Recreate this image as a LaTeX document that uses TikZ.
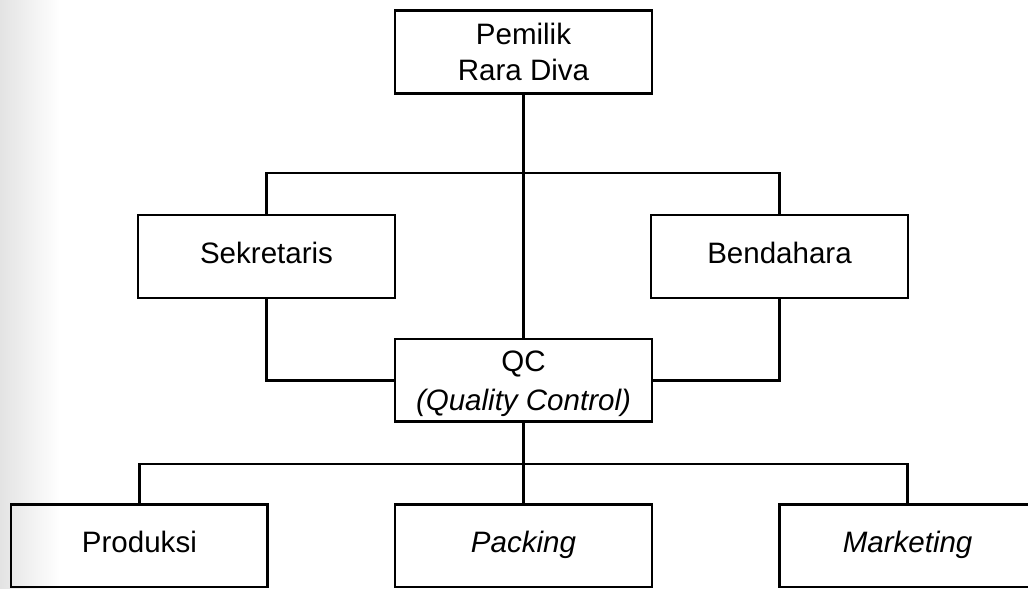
\documentclass[tikz,border=0pt]{standalone}
\usepackage{fontspec}
\setmainfont{Liberation Sans}

\begin{document}
\begin{tikzpicture}[x=0.025cm, y=-0.025cm, line width=2pt,
        box/.style = {draw, rectangle, align=center, minimum width=6.42cm, minimum height=2.07cm,
            font=\fontsize{21}{25}\selectfont}]
        \useasboundingbox (0,0) rectangle (1028,589);
        \clip (0,0) rectangle (1028,589);
        \shade[left color=black!11, right color=white] (0,0) rectangle (60,589);
        \node[box] (own) at (523.5,52) {Pemilik\\Rara Diva};
        \node[box, inner ysep=0pt] (qc) [below of=own, node distance=8.21cm] {\rule{0pt}{19pt}QC\\[3pt]\textit{(Quality Control)}};
        \node[box] (sek) at (266.5,256.5) {Sekretaris\strut};
        \node[box] (ben) at (779.5,256.5) {Bendahara\strut};
        \node[box] (pack) [below of=qc, node distance=4.125cm] {\textit{Packing}\strut};
        \node[box] (prod) [left of=pack, node distance=9.6cm] {Produksi\strut};
        \node[box] (mark) [right of=pack, node distance=9.6cm] {\textit{Marketing}\strut};
        \coordinate (topbus) at (523.5,173);
        \coordinate (lowbus) at (523,464);
        \draw (own) -- (qc);
        \draw (sek.north) |- (topbus) -| (ben.north);
        \draw (sek.south) |- (qc.west);
        \draw (ben.south) |- (qc.east);
        \draw (qc) -- (pack);
        \draw (prod.north) |- (lowbus) -| (mark.north);
    \end{tikzpicture}
\end{document}
